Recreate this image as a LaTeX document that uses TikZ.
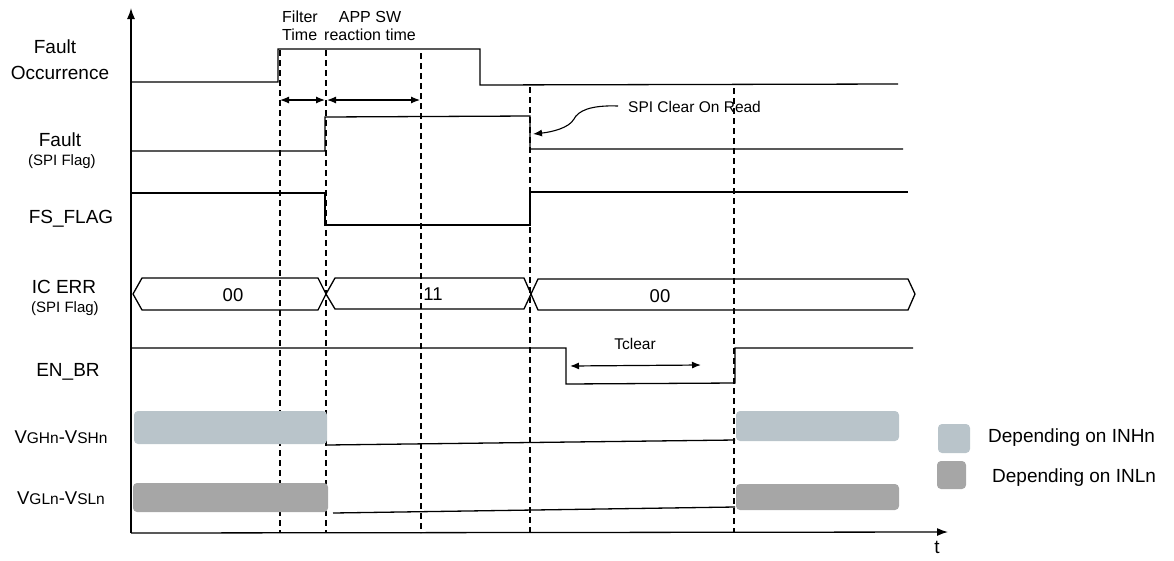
\documentclass[tikz,border=0pt]{standalone}
\usepackage{fontspec}
\setmainfont{Liberation Sans}
\usetikzlibrary{arrows.meta}
\definecolor{lightg}{HTML}{B9C4CA}
\definecolor{darkg}{HTML}{A6A6A6}
\begin{document}
\begin{tikzpicture}[x=1pt,y=-1pt,
  sig/.style={line width=1.3pt, line join=miter},
  guide/.style={line width=1.1pt, dash pattern=on 6pt off 4pt},
  lbl/.style={font=\fontsize{19}{21}\selectfont, inner sep=0pt},
  sublbl/.style={font=\fontsize{15}{17}\selectfont, inner sep=0pt},
  note/.style={font=\fontsize{16}{18}\selectfont, inner sep=0pt},
  buslbl/.style={font=\fontsize{18.5}{20}\selectfont, inner sep=0pt},
  dim/.style={line width=1.2pt, {Latex[length=9pt,width=7pt]}-{Latex[length=9pt,width=7pt]}},
  axis/.style={line width=1.3pt, -{Latex[length=11pt,width=8pt]}},
  hbox/.style={fill=lightg, rounded corners=4pt},
  lbox/.style={fill=darkg, rounded corners=4pt},
]
\useasboundingbox (0,0) rectangle (1174,560);

% axes
\coordinate (O) at (131,533);
\coordinate (ytop) at (131,8);
\coordinate (xend) at (948,532);
\draw[axis] (O) -- (ytop);
\draw[axis] (O) -- (xend);
\node[lbl, anchor=north] (t) at (937,541) {t};

% dashed guides
\coordinate (g1t) at (280,50);  \coordinate (g1b) at (280,533);
\coordinate (g2t) at (326,50);  \coordinate (g2b) at (326,533);
\coordinate (g3t) at (421,53);  \coordinate (g3b) at (421,533);
\coordinate (g4t) at (530,87);  \coordinate (g4b) at (530,533);
\coordinate (g5t) at (734,88);  \coordinate (g5b) at (734,533);
\foreach \g in {g1,g2,g3,g4,g5} \draw[guide] (\g t) -- (\g b);

% row labels
\node[lbl] (fo1) at (55,47) {Fault};
\node[lbl] (fo2) at (60,73) {Occurrence};
\node[lbl] (ff1) at (60,140) {Fault};
\node[sublbl] (ff2) at (62,162) {(SPI Flag)};
\node[lbl] (fs) at (71,219) {FS\_FLAG};
\node[lbl] (ic1) at (64,287) {IC ERR};
\node[sublbl] (ic2) at (65,309) {(SPI Flag)};
\node[lbl] (en) at (68,372) {EN\_BR};
\node[inner sep=0pt] (vgh) at (61,437) {\fontsize{18.5}{20}\selectfont V\fontsize{15.5}{17}\selectfont GHn\fontsize{18.5}{20}\selectfont -V\fontsize{15.5}{17}\selectfont SHn};
\node[inner sep=0pt] (vgl) at (61,498) {\fontsize{18.5}{20}\selectfont V\fontsize{15.5}{17}\selectfont GLn\fontsize{18.5}{20}\selectfont -V\fontsize{15.5}{17}\selectfont SLn};

% top notes
\node[note, anchor=west] (filt1) at (282,17) {Filter};
\node[note, anchor=west] (filt2) at (282,35) {Time};
\node[note] (app1) at (370,17) {APP SW};
\node[note] (app2) at (370,35) {reaction time};

% Fault occurrence
\draw[sig] (131,82) -- (278,82) -- (278,49) -- (480,49) -- (480,85) -- (898,84);
% time arrows
\coordinate (fa1) at (280,100); \coordinate (fa2) at (325,100);
\coordinate (aa1) at (327,100); \coordinate (aa2) at (420,100);
\draw[dim] (fa1) -- (fa2);
\draw[dim] (aa1) -- (aa2);

% Fault (SPI flag)
\draw[sig] (131,151) -- (325,151) -- (325,117) -- (530,116) -- (530,149) -- (903,149);
% SPI clear on read
\node[font=\fontsize{15.5}{17}\selectfont, inner sep=0pt, anchor=west] (spi) at (628,107) {SPI Clear On Read};
\draw[line width=1.1pt, -{Latex[length=9pt,width=7pt]}] (spi.west) ++(-10,-1) coordinate (sp0)
  .. controls (590,105) and (578,111) .. (574,119)
  .. controls (569,128) and (552,132) .. (533,134);

% FS_FLAG
\draw[sig] (131,193) -- (325,193) -- (325,225) -- (530,225) -- (530,192) -- (908,192);

% IC ERR bus
\draw[sig] (133,294) -- (142,278) -- (318,278) -- (326,294) -- (318,310) -- (142,310) -- cycle;
\draw[sig] (326,294) -- (335,278) -- (524,278) -- (531,294) -- (524,309) -- (335,309) -- cycle;
\draw[sig] (531,294) -- (538,279) -- (908,279) -- (915,294) -- (908,310) -- (538,310) -- cycle;
\node[buslbl] (b1) at (233,295) {00};
\node[buslbl] (b2) at (433,294) {11};
\node[buslbl] (b3) at (660,296) {00};

% EN_BR
\draw[sig] (131,348) -- (566,348) -- (566,384) -- (735,383) -- (735,348) -- (913,348);
\node[font=\fontsize{15.5}{17}\selectfont, inner sep=0pt] (tcl) at (635,344) {Tclear};
\coordinate (tc1) at (570,366); \coordinate (tc2) at (701,365);
\draw[dim] (tc1) -- (tc2);

% VGHn-VSHn
\fill[hbox] (134,411) rectangle (327,444);
\draw[sig] (327,445) -- (735,440);
\fill[hbox] (736,411) rectangle (899,441);
% VGLn-VSLn
\fill[lbox] (133,483) rectangle (328,512);
\draw[sig] (333,513) -- (735,507);
\fill[lbox] (736,484) rectangle (899,510);

% legend
\fill[hbox] (938,424) rectangle (970,453);
\node[lbl, anchor=west] (leg1) at (988,438) {Depending on INHn};
\fill[lbox] (937,461) rectangle (966,489);
\node[lbl, anchor=west] (leg2) at (992,478) {Depending on INLn};
\end{tikzpicture}
\end{document}
